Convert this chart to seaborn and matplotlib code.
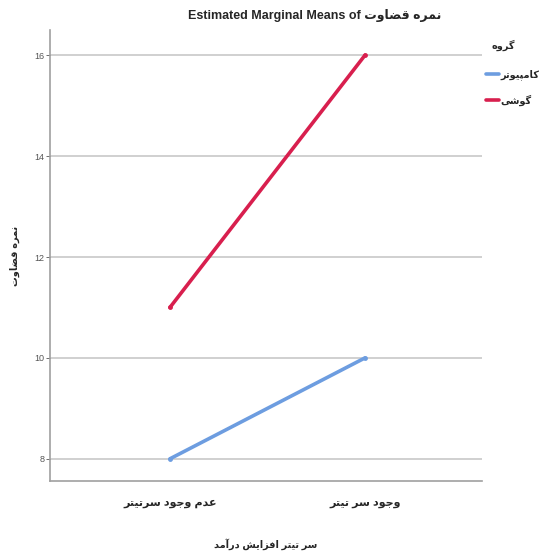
import unicodedata
import pandas as pd
import matplotlib
matplotlib.use("Agg")
import matplotlib.pyplot as plt
import seaborn as sns

# داده‌ها (خوانده شده از نمودار)
headline = ["عدم وجود سرتیتر", "وجود سر تیتر"]
computer = [8, 10]
phone = [11, 16]
groups = ["کامپیوتر", "گوشی"]
y_ticks = [8, 10, 12, 14, 16]

# حروفی که فقط به حرف قبلی وصل می‌شوند
RIGHT_ONLY = set("اآأإدذرزژوؤة")


def is_arabic(c):
    return "\u0600" <= c <= "\u06ff" and unicodedata.category(c).startswith("L")


def rtl(s):
    # شکل‌دهی ساده حروف فارسی و برعکس کردن ترتیب برای matplotlib
    out = []
    for i, c in enumerate(s):
        if not is_arabic(c):
            out.append(c)
            continue
        prev_j = i > 0 and is_arabic(s[i - 1]) and s[i - 1] not in RIGHT_ONLY
        next_j = i < len(s) - 1 and is_arabic(s[i + 1]) and c not in RIGHT_ONLY
        if prev_j and next_j:
            form = "MEDIAL"
        elif prev_j:
            form = "FINAL"
        elif next_j:
            form = "INITIAL"
        else:
            form = "ISOLATED"
        try:
            out.append(unicodedata.lookup(f"{unicodedata.name(c)} {form} FORM"))
        except KeyError:
            out.append(c)
    return "".join(reversed(out))


df = pd.DataFrame({
    "headline": headline * 2,
    "score": computer + phone,
    "group": [groups[0]] * 2 + [groups[1]] * 2,
})
df["headline"] = df["headline"].map(rtl)
df["group"] = df["group"].map(rtl)

sns.set_style("white")
plt.rcParams["font.family"] = ["Liberation Sans", "DejaVu Sans"]

fig = plt.figure(figsize=(5.42, 5.51), dpi=100)
ax = fig.add_axes([50 / 542, 70 / 551, 432 / 542, 451 / 551])

palette = {rtl(groups[0]): "#6d9de0", rtl(groups[1]): "#d81f4e"}
sns.lineplot(data=df, x="headline", y="score", hue="group", palette=palette,
             linewidth=2.6, marker="o", markersize=3.5, markeredgewidth=0,
             ax=ax, sort=False)

ax.set_xlim(-0.615, 1.6)
ax.set_ylim(7.56, 16.5)
ax.set_yticks(y_ticks)
ax.yaxis.grid(True, color="#c8c8c8", linewidth=1.2)
ax.set_axisbelow(True)
for side in ["top", "right"]:
    ax.spines[side].set_visible(False)
for side in ["left", "bottom"]:
    ax.spines[side].set_color("#a0a0a0")
    ax.spines[side].set_linewidth(1.2)
ax.tick_params(axis="y", labelsize=6.5, colors="#555555", length=3, width=0.6,
               direction="out", left=True, pad=1)
ax.tick_params(axis="x", labelsize=8, length=0, pad=12)
for lab in ax.get_xticklabels():
    lab.set_fontweight("bold")

ax.set_xlabel(rtl("سر تیتر افزایش درآمد"), fontsize=7, fontweight="bold", labelpad=22)
ax.set_ylabel(rtl("نمره قضاوت"), fontsize=7, fontweight="bold", labelpad=10)

fig.text(315 / 542, 1 - 16 / 551, "Estimated Marginal Means of " + rtl("نمره قضاوت"),
         ha="center", va="center", fontsize=9, fontweight="bold")

# عنوان راهنما جدا، چون فاصله آن تا اولین مورد بیشتر است
fig.text(492 / 542, 1 - 45 / 551, rtl("گروه"), ha="left", va="center",
         fontsize=7, fontweight="bold")

handles, labels = ax.get_legend_handles_labels()
for h in handles:
    h.set_marker("")
leg = ax.legend(handles, labels, loc="upper left",
                bbox_to_anchor=(486 / 542, 1 - 69 / 551), bbox_transform=fig.transFigure,
                frameon=False, handlelength=1.3, handletextpad=0.2, labelspacing=1.5,
                fontsize=7, borderaxespad=0, borderpad=0)
for t in leg.get_texts():
    t.set_fontweight("bold")

fig.savefig("out.png", dpi=100)
